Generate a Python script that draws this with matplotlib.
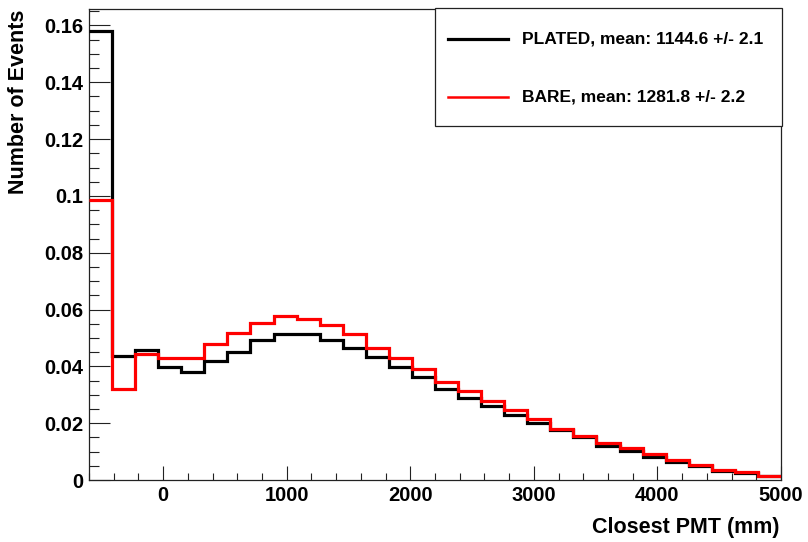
import numpy as np
import matplotlib
matplotlib.use("Agg")
import matplotlib.pyplot as plt
from matplotlib.ticker import MultipleLocator, FuncFormatter
from matplotlib.patches import Rectangle
from matplotlib.lines import Line2D

# Binning: 30 bins between -600 and 5000 mm
x_min, x_max, n_bins = -600, 5000, 30

plated = [0.1579, 0.0437, 0.0457, 0.0398, 0.0381, 0.0419, 0.0451, 0.0493, 0.0513, 0.0515,
          0.0493, 0.0463, 0.0433, 0.0398, 0.0364, 0.0319, 0.0290, 0.0262, 0.0229, 0.0199,
          0.0175, 0.0152, 0.0121, 0.0103, 0.0082, 0.0064, 0.0050, 0.0033, 0.0026, 0.0014]
bare = [0.0987, 0.0320, 0.0443, 0.0429, 0.0429, 0.0478, 0.0519, 0.0553, 0.0578, 0.0566,
        0.0545, 0.0515, 0.0463, 0.0428, 0.0390, 0.0346, 0.0313, 0.0277, 0.0246, 0.0213,
        0.0181, 0.0155, 0.0129, 0.0111, 0.0090, 0.0070, 0.0053, 0.0035, 0.0027, 0.0015]

labels = ["PLATED, mean: 1144.6 +/- 2.1", "BARE, mean: 1281.8 +/- 2.2"]
colors = ["#000000", "#ff0000"]

x_title = "Closest PMT (mm)"
y_title = "Number of Events"

plt.rcParams["font.family"] = ["Liberation Sans", "DejaVu Sans"]
plt.rcParams["font.weight"] = "bold"

W, H = 808, 542
fig = plt.figure(figsize=(W / 100, H / 100), dpi=100)
ax = fig.add_axes([89 / W, 1 - 480 / H, (781 - 89) / W, (480 - 9) / H])

edges = np.linspace(x_min, x_max, n_bins + 1)
for vals, col in zip([plated, bare], colors):
    ax.stairs(vals, edges, baseline=None, color=col, lw=2.3, zorder=3)

ax.set_xlim(x_min, x_max)
ax.set_ylim(0, 1.05 * max(plated))

ax.xaxis.set_major_locator(MultipleLocator(1000))
ax.xaxis.set_minor_locator(MultipleLocator(200))
ax.yaxis.set_major_locator(MultipleLocator(0.02))
ax.yaxis.set_minor_locator(MultipleLocator(0.005))
ax.yaxis.set_major_formatter(FuncFormatter(lambda v, p: f"{v:g}"))
ax.xaxis.set_major_formatter(FuncFormatter(lambda v, p: f"{v:g}"))

for s in ax.spines.values():
    s.set_linewidth(0.9)
    s.set_color("#222222")

ax.tick_params(axis="x", which="major", direction="in", length=10, width=0.8,
               color="#222222", labelsize=14.5, pad=4)
ax.tick_params(axis="x", which="minor", direction="in", length=5, width=0.8, color="#222222")
ax.tick_params(axis="y", which="major", direction="in", length=15, width=0.8,
               color="#222222", labelsize=14.5, pad=4)
ax.tick_params(axis="y", which="minor", direction="in", length=7.5, width=0.8, color="#222222")

ax.set_xlabel(x_title, fontsize=15.5, fontweight="bold", loc="right")
ax.xaxis.set_label_coords((780 - 89) / 692, (480 - 527) / 471)
ax.xaxis.label.set_va("center")
ax.set_ylabel(y_title, fontsize=15.5, fontweight="bold", loc="top")
ax.yaxis.set_label_coords((19 - 89) / 692, (480 - 10) / 471)
ax.yaxis.label.set_va("center")

# Legend box drawn in figure pixel space
box = Rectangle((435 / W, 1 - 126 / H), (782 - 435) / W, (126 - 8) / H,
                transform=fig.transFigure, facecolor="white", edgecolor="#222222",
                lw=0.9, zorder=5)
fig.add_artist(box)
for lab, col, yp, lw in zip(labels, colors, [39, 97], [2.3, 1.8]):
    fig.add_artist(Line2D([448 / W, 508 / W], [1 - yp / H, 1 - yp / H],
                          transform=fig.transFigure, color=col, lw=lw, zorder=6))
    fig.text(522 / W, 1 - yp / H, lab, fontsize=12.5, fontweight="bold",
             va="center", ha="left", zorder=6)

fig.savefig("out.png", dpi=100)
